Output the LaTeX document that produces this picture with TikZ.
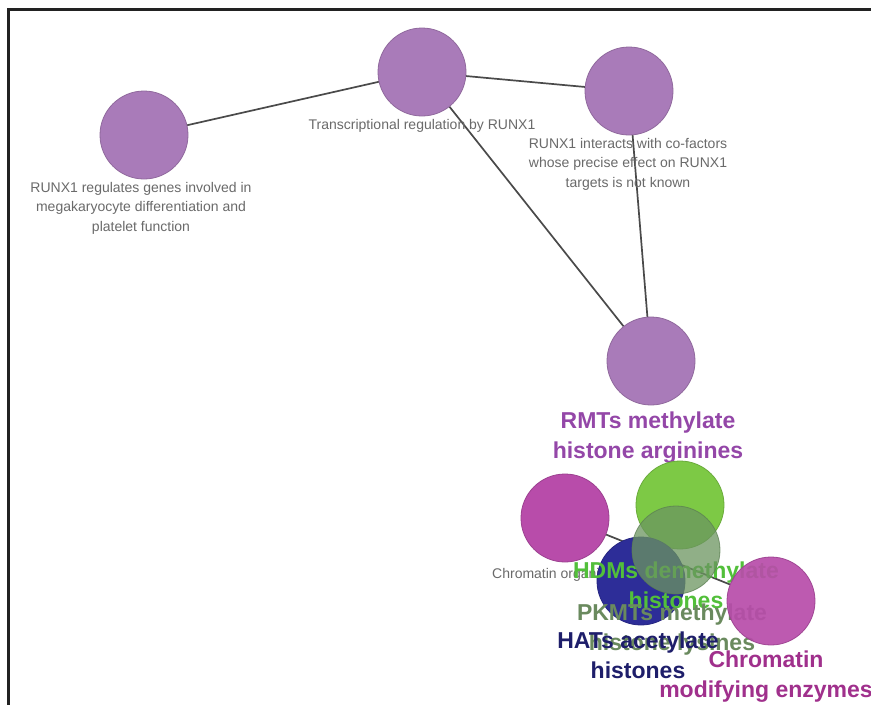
\documentclass[tikz,border=0pt]{standalone}
\usepackage{fontspec}
\setmainfont{Liberation Sans}
\definecolor{framec}{HTML}{222222}
\definecolor{edgegrey}{HTML}{4A4A4A}
\definecolor{labgrey}{HTML}{6A6A6A}
\definecolor{purp}{HTML}{A97BB9}
\definecolor{purplab}{HTML}{9447A8}
\definecolor{mag}{HTML}{B84CAA}
\definecolor{maglab}{HTML}{A0308C}
\definecolor{grn}{HTML}{7DC945}
\definecolor{grnlab}{HTML}{52BF3A}
\definecolor{sage}{HTML}{6B9560}
\definecolor{sagelab}{HTML}{6A8A5E}
\definecolor{blu}{HTML}{2D2D98}
\definecolor{blulab}{HTML}{1E1E6A}
\begin{document}
\begin{tikzpicture}[x=1pt,y=-1pt,
  bub/.style={circle, minimum size=88pt, inner sep=0pt, draw=#1!85!black, fill=#1, line width=0.8pt},
  link/.style={draw=edgegrey, line width=1.7pt},
  small/.style={text=labgrey, font=\fontsize{14}{19.5}\selectfont, align=center, inner sep=0pt},
  big/.style={font=\fontsize{23}{30}\selectfont\bfseries, align=center, inner sep=0pt},
  frameline/.style={draw=framec, line width=3pt}
]
\fill[white] (0,0) rectangle (871,705);
\useasboundingbox (0,0) rectangle (871,705);
\coordinate (f1) at (7,9.5);
\coordinate (f2) at (871,9.5);
\coordinate (f3) at (8.5,8);
\coordinate (f4) at (8.5,705);
\draw[frameline] (f1) -- (f2);
\draw[frameline] (f3) -- (f4);

% node positions
\coordinate (pA) at (144,135);
\coordinate (pB) at (422,72);
\coordinate (pC) at (629,91);
\coordinate (pD) at (651,361);
\coordinate (pE) at (565,518);
\coordinate (pF) at (680,505);
\coordinate (pG) at (676,550);
\coordinate (pH) at (641,581);
\coordinate (pI) at (771,601);

% invisible placeholders for edge clipping
\node[circle, minimum size=88pt, inner sep=0pt] (A) at (pA) {};
\node[circle, minimum size=88pt, inner sep=0pt] (B) at (pB) {};
\node[circle, minimum size=88pt, inner sep=0pt] (C) at (pC) {};
\node[circle, minimum size=88pt, inner sep=0pt] (D) at (pD) {};
\node[circle, minimum size=88pt, inner sep=0pt] (E) at (pE) {};
\node[circle, minimum size=88pt, inner sep=0pt] (I) at (pI) {};

% edges
\draw[link] (A) -- (B);
\draw[link] (B) -- (C);
\draw[link] (B) -- (D);
\draw[link] (C) -- (D);
\draw[link] (E) -- (I);

% upper nodes
\node[bub=purp] (nA) at (pA) {};
\node[bub=purp] (nB) at (pB) {};
\node[bub=purp] (nC) at (pC) {};
\node[bub=purp] (nD) at (pD) {};

\node[small] (lA) at (141,208) {RUNX1 regulates genes involved in\\megakaryocyte differentiation and\\platelet function};
\node[small] (lB) at (422,126) {Transcriptional regulation by RUNX1};
\node[small] (lC) at (628,164) {RUNX1 interacts with co-factors\\whose precise effect on RUNX1\\targets is not known};
\node[big, text=purplab] (lD) at (648,438) {RMTs methylate\\histone arginines};

% lower cluster
\node[bub=mag] (nE) at (pE) {};
\node[small, anchor=west] (lE) at (492,575) {Chromatin organization};
\node[bub=grn] (nF) at (pF) {};
\node[bub=blu] (nH) at (pH) {};
\node[big, text=grnlab] (lF) at (676,585) {HDMs demethylate\\histones};
\node[bub=sage, opacity=0.75] (nG) at (pG) {};
\node[big, text=sagelab] (lG) at (672,630) {PKMTs methylate\\histone lysines};
\node[big, text=blulab] (lH) at (638,655) {HATs acetylate\\histones};
\node[bub=mag, opacity=0.92] (nI) at (pI) {};
\node[big, text=maglab] (lI) at (766,677) {Chromatin\\modifying enzymes};
\end{tikzpicture}
\end{document}
